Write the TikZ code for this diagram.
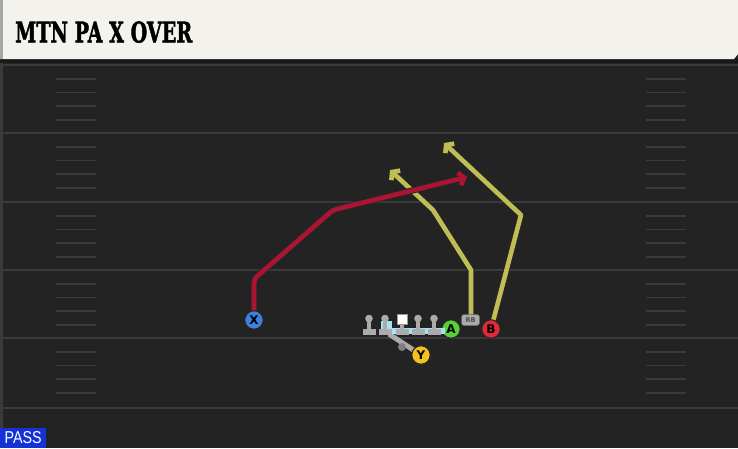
\documentclass[tikz,border=0pt]{standalone}
\usepackage{fontspec}
\setmainfont{DejaVu Sans}
\newfontfamily\titlefont{DejaVu Serif}[FakeBold=2]
\newfontfamily\passfont{Liberation Sans}
\usetikzlibrary{arrows.meta}
\definecolor{fieldc}{HTML}{232323}
\definecolor{yardc}{HTML}{3A3A3A}
\definecolor{creamc}{HTML}{F4F2EC}
\definecolor{redr}{HTML}{AC1434}
\definecolor{yelr}{HTML}{C1BD55}
\definecolor{xblue}{HTML}{3F7FE0}
\definecolor{agreen}{HTML}{58D035}
\definecolor{bred}{HTML}{E02A3A}
\definecolor{yyel}{HTML}{F2C21E}
\definecolor{olgray}{HTML}{ABABAB}
\definecolor{lblue}{HTML}{A6E2F2}
\definecolor{passblue}{HTML}{1432D6}
\pgfdeclarelayer{bg}
\pgfdeclarelayer{rt}
\pgfsetlayers{bg,rt,main}
\tikzset{
  yard/.style={draw=yardc, line width=2.2pt},
  hashm/.style={draw=yardc, line width=1.6pt},
  route/.style={draw=#1, line width=4.6pt, line join=round,
     preaction={draw=black!85, line width=6.4pt}},
  routearrow/.style={-{Straight Barb[length=5pt,width=13pt]}},
  player/.style={circle, minimum size=18.5pt, inner sep=0pt, draw=black!85,
     line width=1.1pt, font=\bfseries\fontsize{12}{12}\selectfont, text=black},
  ol/.style={fill=olgray}
}
\begin{document}
\begin{tikzpicture}[x=1pt,y=-1pt]
\useasboundingbox (0,0) rectangle (738,448);
\begin{pgfonlayer}{bg}
\fill[fieldc] (0,0) rectangle (738,448);
\fill[yardc] (0,59) rectangle (3,448);
\foreach \y in {65,133,202,270,338,408} \draw[yard] (3,\y) -- (738,\y);
\foreach \b in {65,133,202,270,338} {
  \foreach \o in {14,27.5,41,55} {
    \draw[hashm] (56,\b+\o) -- (96,\b+\o);
    \draw[hashm] (646,\b+\o) -- (686,\b+\o);
  }
}
\fill[black!90] (0,58) rectangle (738,63);
\fill[creamc] (0,0) -- (738,0) -- (738,54) -- (734,59) -- (0,59) -- cycle;
\fill[black!35] (0,0) rectangle (3,59);
\end{pgfonlayer}

\node[anchor=south west, inner sep=0pt] (title) at (15,43)
  {\resizebox{177pt}{21pt}{\titlefont\bfseries MTN PA X OVER}};

\node[anchor=south west, fill=passblue, minimum width=46pt, minimum height=20pt, inner sep=0pt] (passbox) at (0,448) {};
\node[inner sep=0pt, text=white] (passtext) at (passbox.center)
  {\resizebox{37pt}{12pt}{\passfont PASS}};

% players
\node[player, fill=xblue] (X) at (254,320) {X};
\node[player, fill=agreen] (A) at (451,329) {A};
\node[player, fill=bred] (B) at (491,329) {B};
\node[player, fill=yyel] (Y) at (421,355) {Y};
\node[fill=olgray, rounded corners=2.5pt, minimum width=18pt, minimum height=11pt, inner sep=0pt,
  font=\bfseries\fontsize{6.5}{6.5}\selectfont, text=black!70, draw=black!60, line width=0.5pt] (RB) at (470.5,320) {RB};

% offensive line
\fill[lblue] (381,328) rectangle (445,334);
\fill[lblue] (381,321) rectangle (392,334);
\foreach \x in {369,385,418,434} {
  \fill[ol] (\x,318.5) circle (3.8);
  \fill[ol] (\x-1.8,319) rectangle (\x+1.8,330);
  \fill[ol] (\x-6.5,329) rectangle (\x+6.5,334.5);
}
\fill[ol] (400.2,319) rectangle (403.8,330);
\fill[ol] (395.5,329) rectangle (408.5,334.5);
\fill[white, draw=black!40, line width=0.4pt] (397,314) rectangle (407,324);

% Y block and QB
\coordinate (yb) at (389,334);
\coordinate (qb) at (402,347);
\begin{pgfonlayer}{rt}
\draw[draw=olgray, line width=5pt] (Y.center) -- (yb);
\end{pgfonlayer}
\fill[black!50] (qb) circle (4);

% routes
\coordinate (x1) at (254,279);
\coordinate (x2) at (333,210);
\coordinate (x3) at (467,177);
\coordinate (r0) at (471,317);
\coordinate (r1) at (471,270);
\coordinate (r2) at (433,210);
\coordinate (r3) at (390,170);
\coordinate (b1) at (521,215);
\coordinate (b2) at (444,143);
\begin{pgfonlayer}{rt}
\draw[route=yelr, routearrow] (r0) -- (r1) -- (r2) -- (r3);
\draw[route=yelr, routearrow] (B.center) -- (b1) -- (b2);
\draw[route=redr, routearrow, rounded corners=4pt] (X.center) -- (x1) -- (x2) -- (x3);
\end{pgfonlayer}
\end{tikzpicture}
\end{document}
